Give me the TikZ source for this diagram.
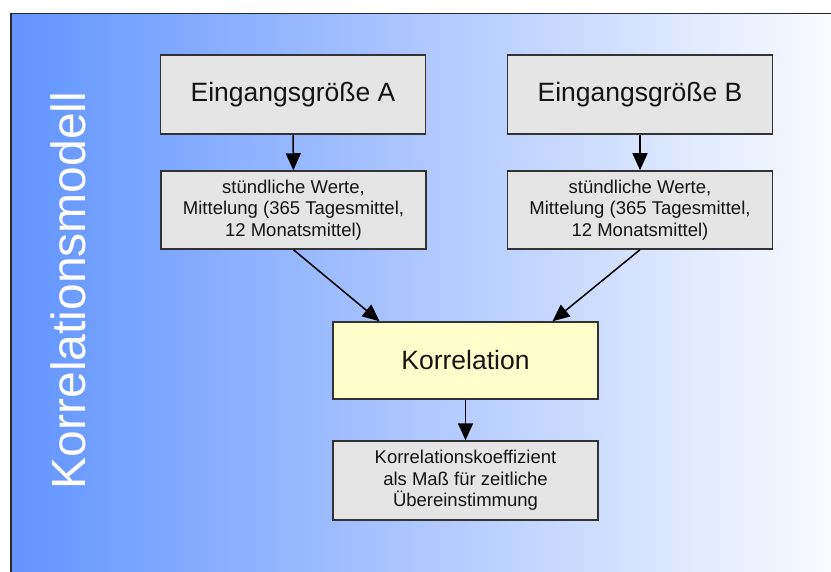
\documentclass[tikz,border=0pt]{standalone}
\usepackage{fontspec}
\setmainfont{Liberation Sans}
\usetikzlibrary{arrows.meta,calc}

\definecolor{bgleft}{RGB}{98,148,255}
\definecolor{bgright}{RGB}{250,251,255}
\definecolor{boxgray}{RGB}{229,229,229}
\definecolor{boxyellow}{RGB}{255,255,204}
\definecolor{edge}{RGB}{51,51,51}
\definecolor{ink}{RGB}{20,20,20}

\tikzset{
  basebox/.style={draw=edge, line width=1.5pt, rectangle, inner sep=0pt,
    minimum width=265pt, align=center, text=ink},
  bigbox/.style={basebox, fill=boxgray, minimum height=79pt,
    font=\fontsize{26.5}{30}\selectfont},
  smallbox/.style={basebox, fill=boxgray, minimum height=78pt,
    font=\fontsize{18.5}{21.5}\selectfont},
  corrbox/.style={basebox, fill=boxyellow, minimum height=77pt,
    font=\fontsize{26.5}{30}\selectfont},
  flow/.style={line width=1.5pt, black, -{Triangle[length=17pt,width=15pt]}},
}

\begin{document}
\begin{tikzpicture}[x=1pt,y=-1pt]
  \useasboundingbox (0,0) rectangle (831,572);

  % panel with horizontal gradient and frame on top and left
  \shade[left color=bgleft, right color=bgright] (11,13.5) rectangle (831,572);
  \draw[line width=1.7pt, color=edge!80!black] (11,572) -- (11,13.5) -- (831,13.5);

  % vertical title
  \node[rotate=90, anchor=base, text=white, inner sep=0pt,
        font=\fontsize{48}{56}\selectfont] (title) at (85,290.5) {Korrelationsmodell};

  % input quantities
  \node[bigbox] (inA) at (293,94.5) {Eingangsgröße A};
  \node[bigbox] (inB) at (640,94.5) {Eingangsgröße B};

  % averaging step
  \node[smallbox] (avgA) at (293.5,210) {stündliche Werte,\\Mittelung (365 Tagesmittel,\\12 Monatsmittel)};
  \node[smallbox] (avgB) at (640,210) {stündliche Werte,\\Mittelung (365 Tagesmittel,\\12 Monatsmittel)};

  % correlation and result
  \node[corrbox] (corr) at (465.5,360.5) {Korrelation};
  \node[smallbox, minimum height=79pt] (res) at (465.5,480.5)
    {Korrelationskoeffizient\\als Maß für zeitliche\\Übereinstimmung};

  \coordinate (corrA) at ($(corr.north)+(-86,0)$);
  \coordinate (corrB) at ($(corr.north)+(87,0)$);

  \draw[flow] (inA) -- (avgA);
  \draw[flow] (inB) -- (avgB);
  \draw[flow] (avgA.south) -- (corrA);
  \draw[flow] (avgB.south) -- (corrB);
  \draw[flow] (corr) -- (res);
\end{tikzpicture}
\end{document}
